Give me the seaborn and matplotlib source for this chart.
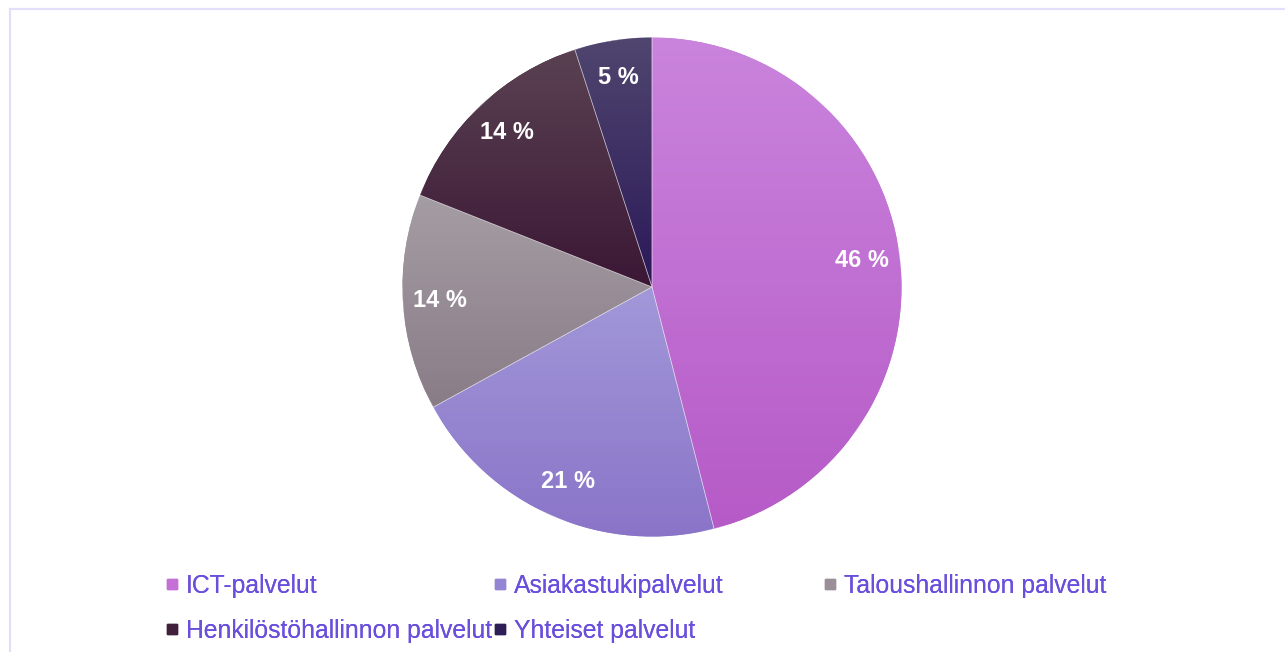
import matplotlib
matplotlib.use("Agg")
import matplotlib.pyplot as plt
from matplotlib.colors import LinearSegmentedColormap
from matplotlib.lines import Line2D
from matplotlib.patches import Rectangle
import numpy as np
import seaborn as sns

CATEGORIES = ["ICT-palvelut", "Asiakastukipalvelut", "Taloushallinnon palvelut",
              "Henkilöstöhallinnon palvelut", "Yhteiset palvelut"]
SHARES = [46, 21, 14, 14, 5]

# gradient top / bottom and legend swatch colours
TOP_COLORS = ["#ca84dd", "#a298d9", "#a59da4", "#5a4252", "#50466f"]
BOTTOM_COLORS = ["#b65ac7", "#8a74c8", "#897c87", "#3b1735", "#2b1858"]
SWATCH_COLORS = ["#c470d6", "#9485d4", "#9a8f98", "#40203a", "#2e1e58"]

TEXT_COLOR = "#6a4fdc"


def main():
    sns.set_style("white")
    plt.rcParams["font.family"] = ["Liberation Sans", "DejaVu Sans"]

    fig = plt.figure(figsize=(12.85, 6.52), dpi=100)
    fig.patches.append(Rectangle((10 / 1285, -0.1), 1.2, (652 - 9) / 652 + 0.1,
                                 transform=fig.transFigure, fill=False,
                                 edgecolor="#e4dff8", linewidth=1.6))

    ax = fig.add_axes([400 / 1285, 113 / 652, 504 / 1285, 504 / 652])
    wedges, texts, autotexts = ax.pie(
        SHARES, startangle=90, counterclock=False, radius=1,
        colors=SWATCH_COLORS, autopct=lambda p: f"{p:.0f} %", pctdistance=0.85,
        wedgeprops=dict(edgecolor="none", linewidth=0),
        textprops=dict(color="white", fontsize=17, fontweight="bold"))

    grad = np.linspace(0, 1, 256).reshape(-1, 1)
    for w, top, bot in zip(wedges, TOP_COLORS, BOTTOM_COLORS):
        path = w.get_path().transformed(w.get_patch_transform())
        ext = path.get_extents()
        cmap = LinearSegmentedColormap.from_list("g", [top, bot])
        im = ax.imshow(grad, cmap=cmap, aspect="auto",
                       extent=(ext.x0, ext.x1, ext.y0, ext.y1), origin="upper",
                       zorder=1.5)
        im.set_clip_path(w)
        # thin light seam between slices
        ax.add_patch(plt.Polygon(path.vertices, closed=True, fill=False,
                                 edgecolor="#ffffff", linewidth=0.5, alpha=0.45,
                                 zorder=1.6))
    for t in autotexts:
        t.set_zorder(3)
    ax.set_xlim(-1.01, 1.01)
    ax.set_ylim(-1.01, 1.01)
    ax.set_aspect("equal")
    ax.axis("off")

    handles = [Line2D([], [], marker="s", linestyle="", color=c, markersize=7.5)
               for c in SWATCH_COLORS]
    columns = [([0, 3], 167), ([1, 4], 495), ([2], 825)]
    for idx, x0 in columns:
        leg = fig.legend([handles[i] for i in idx], [CATEGORIES[i] for i in idx],
                         loc="upper left", bbox_to_anchor=(x0 / 1285, (652 - 574) / 652),
                         frameon=False, fontsize=17.8, handlelength=0.4,
                         handletextpad=0.35, borderpad=0, borderaxespad=0,
                         labelspacing=0.85, labelcolor=TEXT_COLOR)
        fig.add_artist(leg)

    fig.savefig("out.png", dpi=100)


if __name__ == "__main__":
    main()
